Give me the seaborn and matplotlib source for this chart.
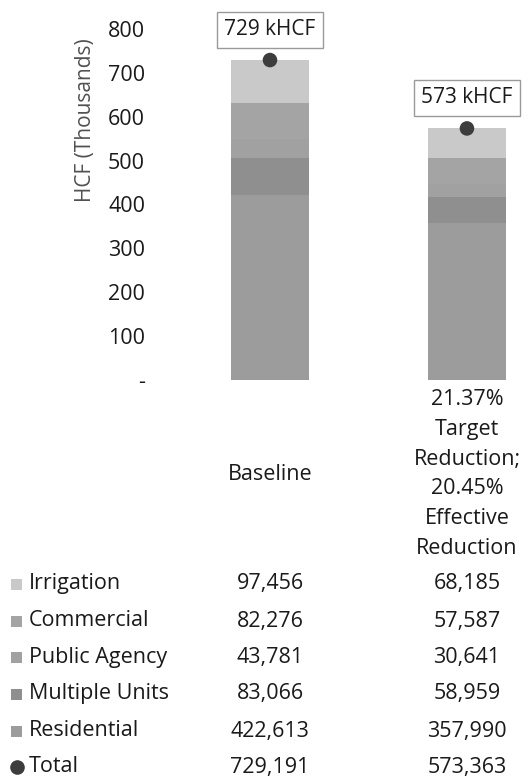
import matplotlib
matplotlib.use("Agg")
import matplotlib.pyplot as plt
import matplotlib.transforms as mtransforms
from matplotlib.patches import Rectangle
from matplotlib.lines import Line2D
import pandas as pd
import seaborn as sns

# ---- data -------------------------------------------------------------
scenarios = ["Baseline",
             "21.37%\nTarget\nReduction;\n20.45%\nEffective\nReduction"]
series = ["Irrigation", "Commercial", "Public Agency", "Multiple Units", "Residential"]
irrigation = [97456, 68185]
commercial = [82276, 57587]
public_agency = [43781, 30641]
multiple_units = [83066, 58959]
residential = [422613, 357990]
totals = [729191, 573363]
y_ticks = [0, 100, 200, 300, 400, 500, 600, 700, 800]
y_tick_labels = ["-", "100", "200", "300", "400", "500", "600", "700", "800"]

colors = {
    "Irrigation": "#c9c9c9",
    "Commercial": "#a4a4a4",
    "Public Agency": "#a1a1a1",
    "Multiple Units": "#8f8f8f",
    "Residential": "#9c9c9c",
}
dot_color = "#3d3d3d"
text_color = "#1a1a1a"

# ---- setup ------------------------------------------------------------
sns.set_theme(style="white")
plt.rcParams["font.family"] = ["Open Sans", "DejaVu Sans"]

W, H = 529, 781
fig = plt.figure(figsize=(W / 100, H / 100), dpi=100)
fig.patch.set_facecolor("white")


def fx(x):
    return x / W


def fy(y):
    return 1 - y / H


ax_left, ax_right, ax_top, ax_bottom = 171.5, 528, 29, 380
ax = fig.add_axes([fx(ax_left), fy(ax_bottom),
                   fx(ax_right - ax_left), (ax_bottom - ax_top) / H])
ax.set_facecolor("white")

# stacked bars: cumulative heights from the bottom layer up, tallest drawn first
stack_order = ["Residential", "Multiple Units", "Public Agency", "Commercial", "Irrigation"]
values = {
    "Irrigation": irrigation,
    "Commercial": commercial,
    "Public Agency": public_agency,
    "Multiple Units": multiple_units,
    "Residential": residential,
}
positions = ["A", "B"]
cum = [0.0, 0.0]
layers = []
for name in stack_order:
    cum = [c + v / 1000 for c, v in zip(cum, values[name])]
    layers.append((name, list(cum)))

for name, heights in reversed(layers):
    df = pd.DataFrame({"pos": positions, "height": heights})
    sns.barplot(data=df, x="pos", y="height", color=colors[name],
                width=0.4, saturation=1, ax=ax, order=positions,
                linewidth=0, edgecolor="none")

# total markers
tot_df = pd.DataFrame({"pos": positions, "total": [t / 1000 for t in totals]})
sns.scatterplot(data=tot_df, x="pos", y="total", s=110, color=dot_color,
                edgecolor="none", ax=ax, zorder=5, legend=False)

for i, t in enumerate(totals):
    ax.annotate(f"{round(t / 1000)} kHCF", xy=(i, t / 1000),
                xytext=(0, 22), textcoords="offset points",
                ha="center", va="center", fontsize=15, color=text_color,
                bbox=dict(boxstyle="square,pad=0.36", fc="white", ec="#9a9a9a", lw=1),
                zorder=6)

ax.set_xlim(-0.5, 1.31)
ax.set_ylim(0, 800)
ax.set_yticks(y_ticks)
ax.set_yticklabels(y_tick_labels, fontsize=15.5, color=text_color)
ax.tick_params(axis="y", length=0, pad=19)
ax.set_xticks([])
ax.set_xlabel("")
ax.set_ylabel("")
for s in ax.spines.values():
    s.set_visible(False)

fig.text(fx(85), fy(120), "HCF (Thousands)", rotation=90, ha="center",
         va="center", fontsize=15, color="#505050")

# category labels under the bars
blend = mtransforms.blended_transform_factory(ax.transData, fig.transFigure)
for i, lab in enumerate(scenarios):
    fig.text(i, fy(474), lab, transform=blend, ha="center", va="center",
             fontsize=15.5, color=text_color, linespacing=1.56, multialignment="center")

# data table with legend keys
row_y = [584, 621, 657, 694, 731, 767]
row_names = series + ["Total"]
row_vals = [irrigation, commercial, public_agency, multiple_units, residential, totals]
for name, yy, vals in zip(row_names, row_y, row_vals):
    if name == "Total":
        fig.add_artist(Line2D([fx(16.5)], [fy(yy)], marker="o", markersize=9.5,
                              color=dot_color, transform=fig.transFigure))
    else:
        fig.add_artist(Rectangle((fx(11), fy(yy + 5.5)), fx(11), 11 / H,
                                 facecolor=colors[name], edgecolor="none",
                                 transform=fig.transFigure))
    fig.text(fx(29), fy(yy), name, ha="left", va="center", fontsize=15.5,
             color=text_color)
    for i, v in enumerate(vals):
        fig.text(i, fy(yy), f"{v:,}", transform=blend, ha="center",
                 va="center", fontsize=15.5, color=text_color)

fig.savefig("out.png", dpi=100, facecolor="white")
